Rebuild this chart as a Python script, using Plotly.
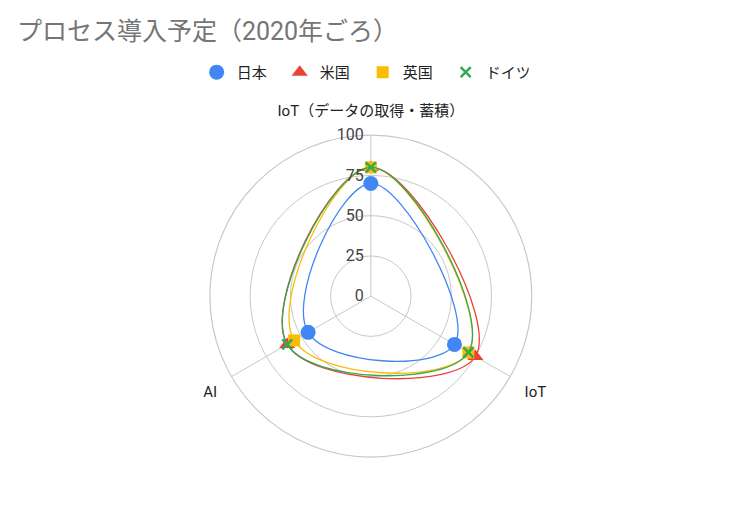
import plotly.graph_objects as go

# axes (clockwise from the top)
categories = ['IoT（データの取得・蓄積）', 'IoT', 'AI']

series_names = ['日本', '米国', '英国', 'ドイツ']
japan = [70, 60, 45]
usa = [80, 75, 60]
uk = [80, 70, 55]
germany = [80, 70, 60]

radial_ticks = [0, 25, 50, 75, 100]

colors = ['#4285F4', '#EA4335', '#FBBC04', '#34A853']
symbols = ['circle', 'triangle-up', 'square', 'x-thin-open']
sizes = [15, 14, 12, 10]

font_family = 'Roboto, "Noto Sans CJK JP", sans-serif'
grid_color = '#c8c8c8'

fig = go.Figure()
for name, values, color, symbol, size in zip(series_names, [japan, usa, uk, germany],
                                             colors, symbols, sizes):
    # closed smooth curve: repeat first point so plotly closes the spline
    fig.add_trace(go.Scatterpolar(
        r=values + values[:1], theta=categories + categories[:1],
        mode='lines', line=dict(color=color, width=1.3, shape='spline', smoothing=1.3),
        showlegend=False, hoverinfo='skip', legendgroup=name))
    marker = dict(color=color, symbol=symbol, size=size)
    if symbol == 'x-thin-open':
        marker['line'] = dict(color=color, width=2.5)
    fig.add_trace(go.Scatterpolar(
        r=values, theta=categories, mode='markers', name=name,
        marker=marker, legendgroup=name))

fig.update_layout(
    width=742, height=515,
    margin=dict(l=0, r=0, t=0, b=0),
    paper_bgcolor='white',
    font=dict(family=font_family, size=13, color='#222222'),
    title=dict(text='プロセス導入予定（2020年ごろ）', x=0.012, xanchor='left',
               y=0.955, yanchor='middle',
               font=dict(size=25, color='#757575')),
    legend=dict(orientation='h', x=0.478, xanchor='center', y=0.875, yanchor='middle',
                font=dict(size=15, color='#222222'), itemwidth=30,
                entrywidth=38, tracegroupgap=0),
    polar=dict(
        domain=dict(x=[0.272, 0.706], y=[0.128, 0.753]),
        bgcolor='white',
        angularaxis=dict(direction='clockwise', rotation=90, type='category',
                         categoryarray=categories,
                         showline=True, linecolor=grid_color, linewidth=1.2,
                         gridcolor=grid_color, gridwidth=1.2,
                         ticks='outside', ticklen=13,
                         tickcolor='rgba(0,0,0,0)',
                         tickfont=dict(size=15, color='#222222')),
        radialaxis=dict(range=[0, 100], tickvals=radial_ticks, angle=90,
                        side='counterclockwise', showline=False,
                        gridcolor=grid_color, gridwidth=1.2,
                        ticks='outside', ticklen=1,
                        tickcolor='rgba(0,0,0,0)',
                        tickfont=dict(size=16, color='#444444'), tickangle=90),
    ),
)

fig.write_html('out.html')
